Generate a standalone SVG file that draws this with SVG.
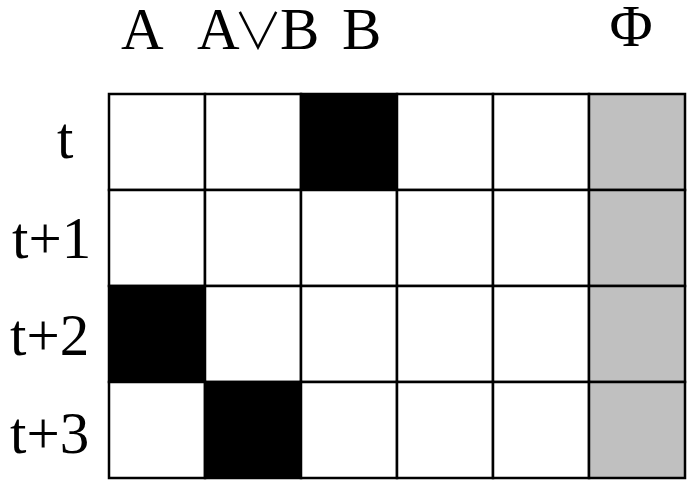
<svg xmlns="http://www.w3.org/2000/svg" width="690" height="485" viewBox="0 0 690 485">
<style>
.lbl{font-family:"Liberation Serif","Times New Roman",serif;font-size:59px;fill:#000}
.sym{font-family:"Noto Sans CJK JP","DejaVu Sans",sans-serif;font-weight:300;font-size:50px}
.cell{stroke:#000;stroke-width:2.5}
.w{fill:#fff}.k{fill:#000}.g{fill:#c0c0c0}
</style>
<rect width="690" height="485" fill="#fff"/>
<g id="headers">
<text class="lbl" x="121" y="49">A</text>
<text class="lbl" x="197" y="49">A<tspan class="sym" x="233">∨</tspan><tspan x="280">B</tspan></text>
<text class="lbl" x="342" y="49">B</text>
<text class="lbl" x="631" y="46" text-anchor="middle">Φ</text>
</g>
<g id="rowlabels">
<text class="lbl" x="57" y="158">t</text>
<text class="lbl" x="12" y="258">t+1</text>
<text class="lbl" x="10" y="355">t+2</text>
<text class="lbl" x="10" y="453">t+3</text>
</g>
<g id="grid">
<rect class="cell w" x="109" y="94" width="96" height="96"/>
<rect class="cell w" x="205" y="94" width="96" height="96"/>
<rect class="cell k" x="301" y="94" width="96" height="96"/>
<rect class="cell w" x="397" y="94" width="96" height="96"/>
<rect class="cell w" x="493" y="94" width="96" height="96"/>
<rect class="cell g" x="589" y="94" width="96" height="96"/>
<rect class="cell w" x="109" y="190" width="96" height="96"/>
<rect class="cell w" x="205" y="190" width="96" height="96"/>
<rect class="cell w" x="301" y="190" width="96" height="96"/>
<rect class="cell w" x="397" y="190" width="96" height="96"/>
<rect class="cell w" x="493" y="190" width="96" height="96"/>
<rect class="cell g" x="589" y="190" width="96" height="96"/>
<rect class="cell k" x="109" y="286" width="96" height="96"/>
<rect class="cell w" x="205" y="286" width="96" height="96"/>
<rect class="cell w" x="301" y="286" width="96" height="96"/>
<rect class="cell w" x="397" y="286" width="96" height="96"/>
<rect class="cell w" x="493" y="286" width="96" height="96"/>
<rect class="cell g" x="589" y="286" width="96" height="96"/>
<rect class="cell w" x="109" y="382" width="96" height="96"/>
<rect class="cell k" x="205" y="382" width="96" height="96"/>
<rect class="cell w" x="301" y="382" width="96" height="96"/>
<rect class="cell w" x="397" y="382" width="96" height="96"/>
<rect class="cell w" x="493" y="382" width="96" height="96"/>
<rect class="cell g" x="589" y="382" width="96" height="96"/>
</g>
</svg>
